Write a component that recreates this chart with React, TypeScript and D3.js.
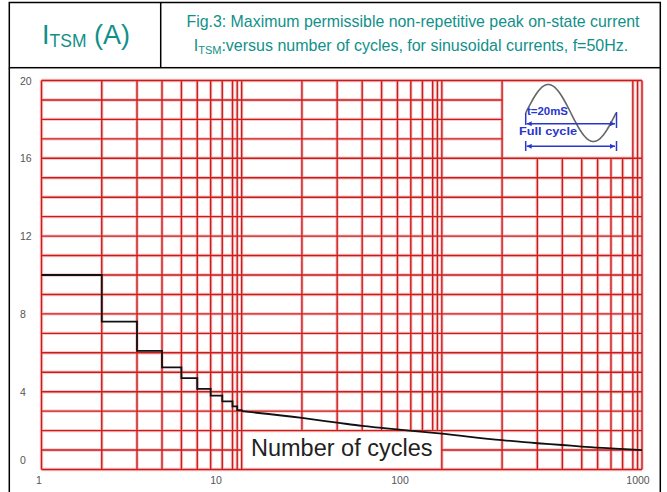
import React from "react";
import * as d3 from "d3";

const W = 667;
const H = 492;

// axis ticks
const currentTicks = [0, 4, 8, 12, 16, 20];
const cycleTicks = [1, 10, 100, 1000];
const cycleTickLabels = ["1", "10", "100", "1000"];

// grid definition (log paper)
const gridDecades = [1, 10, 100];
const gridMantissas = [1, 2, 3, 4, 5, 6, 7, 8, 9, 9.5];
const gridCurrents = d3.range(0, 21, 1);

// stepped part of the curve (integer cycles)
const stepCycles = [1, 2, 3, 4, 5, 6, 7, 8, 9, 9.5, 10];
const stepCurrent = [10, 7.6, 6.1, 5.25, 4.7, 4.15, 3.8, 3.5, 3.25, 3.05, 3.0];

// smooth part of the curve
const smoothCycles = [10, 20, 30, 40, 50, 100, 200, 300, 400, 500, 700, 1000];
const smoothCurrent = [3.0, 2.65, 2.41, 2.24, 2.14, 1.84, 1.51, 1.35, 1.26, 1.18, 1.09, 1.0];

const TEAL = "#11908a";
const BLUE = "#2a36cc";
const FONT = "'Liberation Sans', Arial, sans-serif";

export default function App() {
  const x = d3.scaleLog().domain([1, 1000]).range([41.5, 642]);
  const y = d3.scaleLinear().domain([0, 20]).range([469.5, 80.5]);
  // label positions of the printed tick numbers (they are offset in the original)
  const xLabel = d3.scaleLog().domain([1, 10, 100, 1000]).range([39, 216, 400, 638]);

  const gridCycles: number[] = [];
  gridDecades.forEach((d) => gridMantissas.forEach((m) => gridCycles.push(m * d)));
  gridCycles.push(1000);

  // boxes where the grid is blanked
  const insetX0 = 200, insetX1 = 900, insetY0 = 16;
  const labelX0 = 10, labelX1 = 100, labelY1 = 2;

  type Seg = { x1: number; x2: number; y1: number; y2: number; k: string };
  const segs: Seg[] = [];
  gridCycles.forEach((c, i) => {
    let top = 20, bottom = 0;
    if (c > insetX0 && c < insetX1) top = insetY0;
    if (c > labelX0 && c < labelX1) bottom = labelY1;
    segs.push({ x1: x(c), x2: x(c), y1: y(bottom), y2: y(top), k: "v" + i });
  });
  gridCurrents.forEach((v, i) => {
    if (v > insetY0 && v < 20) {
      segs.push({ x1: x(1), x2: x(insetX0), y1: y(v), y2: y(v), k: "h" + i });
    } else if (v > 0 && v < labelY1) {
      segs.push({ x1: x(1), x2: x(labelX0), y1: y(v), y2: y(v), k: "ha" + i });
      segs.push({ x1: x(labelX1), x2: x(1000), y1: y(v), y2: y(v), k: "hb" + i });
    } else {
      segs.push({ x1: x(1), x2: x(1000), y1: y(v), y2: y(v), k: "h" + i });
    }
  });

  const stepLine = d3
    .line<number>()
    .x((_, i) => x(stepCycles[i]))
    .y((d) => y(d))
    .curve(d3.curveStepAfter);
  const smoothLine = d3
    .line<number>()
    .x((_, i) => x(smoothCycles[i]))
    .y((d) => y(d))
    .curve(d3.curveMonotoneX);

  // inset sketch of one sine period
  const sx0 = 525.7, sx1 = 616, smid = 113, samp = 28.5;
  const sinePts = d3
    .range(0, 1.0001, 0.02)
    .map((t) => [sx0 + t * (sx1 - sx0), smid - samp * Math.sin(2 * Math.PI * t)] as [number, number]);
  const sinePath = d3.line()(sinePts) || "";

  const labelCx = (x(labelX0) + x(labelX1)) / 2;

  return (
    <svg
      width={W}
      height={H}
      viewBox={`0 0 ${W} ${H}`}
      style={{ position: "absolute", left: 0, top: 0, background: "#fff", fontFamily: FONT }}
    >
      <defs>
        <marker
          id="arr"
          viewBox="0 0 10 10"
          refX="10"
          refY="5"
          markerWidth="6"
          markerHeight="5"
          markerUnits="userSpaceOnUse"
          orient="auto-start-reverse"
        >
          <path d="M0,0 L10,5 L0,10 z" fill={BLUE} />
        </marker>
      </defs>
      <rect x={0} y={0} width={W} height={H} fill="#fff" />

      {/* header frame */}
      <g stroke="#000" strokeWidth={1.5} fill="none">
        <rect x={9.3} y={2.5} width={651} height={65.2} />
        <line x1={160.7} x2={160.7} y1={2.5} y2={67.7} />
        <line x1={9.3} x2={9.3} y1={67.7} y2={H} />
        <line x1={660.3} x2={660.3} y1={67.7} y2={H} />
      </g>

      {/* header texts */}
      <text x={86} y={43.5} textAnchor="middle" fill={TEAL} fontSize={27}>
        I<tspan fontSize={17.5} dy={3.5}>TSM</tspan>
        <tspan dy={-3.5}> (A)</tspan>
      </text>
      <text x={413} y={27} textAnchor="middle" fill={TEAL} fontSize={15.9}>
        Fig.3: Maximum permissible non-repetitive peak on-state current
      </text>
      <text x={411} y={51} textAnchor="middle" fill={TEAL} fontSize={16}>
        I<tspan fontSize={11} dy={3}>TSM</tspan>
        <tspan dy={-3}>:versus number of cycles, for sinusoidal currents, f=50Hz.</tspan>
      </text>

      {/* grid halo */}
      <g stroke="#f03a3a" strokeWidth={3.4} opacity={0.28}>
        {segs.map((s) => (
          <line key={"g" + s.k} x1={s.x1} x2={s.x2} y1={s.y1} y2={s.y2} />
        ))}
      </g>
      {/* grid core */}
      <g stroke="#c91c1c" strokeWidth={1.4}>
        {segs.map((s) => (
          <line key={s.k} x1={s.x1} x2={s.x2} y1={s.y1} y2={s.y2} />
        ))}
      </g>

      {/* y tick labels */}
      <g fill="#555" fontSize={10.5}>
        {currentTicks.map((t) => (
          <text key={t} x={20} y={y(t)} dy={t === 0 ? -6 : 4}>
            {t}
          </text>
        ))}
      </g>
      {/* x tick labels */}
      <g fill="#555" fontSize={10.5} textAnchor="middle">
        {cycleTicks.map((t, i) => (
          <text key={t} x={xLabel(t)} y={484}>
            {cycleTickLabels[i]}
          </text>
        ))}
      </g>

      {/* curve */}
      <path d={stepLine(stepCurrent) || ""} fill="none" stroke="#111" strokeWidth={1.8} />
      <path d={smoothLine(smoothCurrent) || ""} fill="none" stroke="#111" strokeWidth={1.8} />

      {/* axis title */}
      <text x={labelCx} y={456} textAnchor="middle" fill="#222" fontSize={23.5}>
        Number of cycles
      </text>

      {/* inset: full cycle sketch */}
      <path d={sinePath} fill="none" stroke="#666" strokeWidth={1.6} />
      <g stroke={BLUE} strokeWidth={1.5} fill="none">
        <line x1={sx0} x2={sx0} y1={113} y2={125} />
        <line x1={sx1 + 0.5} x2={sx1 + 0.5} y1={112} y2={128} />
        <line x1={sx0 + 1} x2={sx1 - 1} y1={123.7} y2={123.7} markerStart="url(#arr)" markerEnd="url(#arr)" />
        <line x1={sx0} x2={sx0} y1={141} y2={151} />
        <line x1={sx1 + 0.5} x2={sx1 + 0.5} y1={141} y2={151} />
        <line x1={sx0 + 1} x2={sx1 - 1} y1={146.3} y2={146.3} markerStart="url(#arr)" markerEnd="url(#arr)" />
      </g>
      <text x={527} y={115} fill={BLUE} fontSize={10} fontWeight="bold" textLength={41} lengthAdjust="spacingAndGlyphs">
        t=20mS
      </text>
      <text x={519} y={135} fill={BLUE} fontSize={11} fontWeight="bold" textLength={58} lengthAdjust="spacingAndGlyphs">
        Full cycle
      </text>
    </svg>
  );
}
